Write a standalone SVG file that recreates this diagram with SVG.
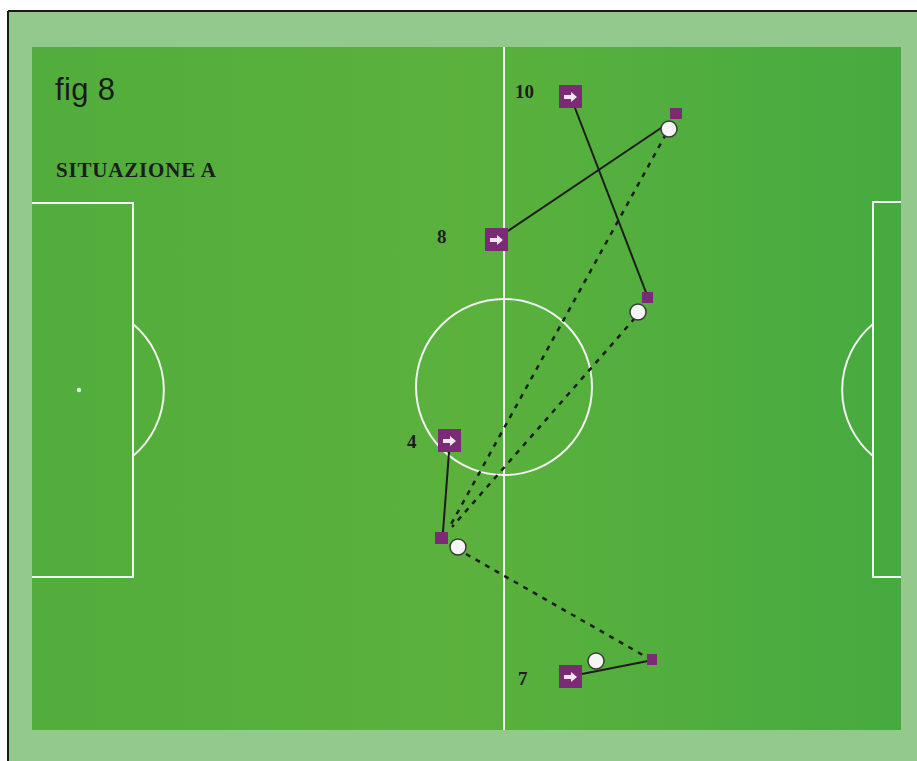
<svg xmlns="http://www.w3.org/2000/svg" width="917" height="761" viewBox="0 0 917 761">
<defs>
<linearGradient id="fieldGrad" x1="0" y1="0" x2="1" y2="0">
<stop offset="0" stop-color="#52ad3c"/>
<stop offset="0.5" stop-color="#5bb13c"/>
<stop offset="1" stop-color="#46aa40"/>
</linearGradient>
<g id="player">
<rect x="0" y="0" width="23" height="23" fill="#7b2a76"/>
<rect x="5" y="10" width="8" height="4" fill="#f3e6f2"/>
<polygon points="12,7 18,12 12,17" fill="#f3e6f2"/>
</g>
</defs>
<style>
.line{fill:none;stroke:#f2f2f2;stroke-width:2}
.solid{fill:none;stroke:#1c1c1c;stroke-width:2}
.dash{fill:none;stroke:#1c1c1c;stroke-width:2.5;stroke-dasharray:5 6}
.mark{fill:#7b2a76}
.ball{fill:#f5f5f5;stroke:#3a3a3a;stroke-width:1.5}
.num{font-family:"Liberation Serif",serif;font-weight:bold;font-size:19px;fill:#1c1c1c}
</style>
<rect x="0" y="0" width="917" height="761" fill="#ffffff"/>
<rect x="8" y="11" width="909" height="750" fill="#93c98d"/>
<line x1="8" y1="11" x2="917" y2="11" stroke="#1a1a1a" stroke-width="2"/>
<line x1="8" y1="11" x2="8" y2="761" stroke="#1a1a1a" stroke-width="2"/>
<g id="field">
<rect x="32" y="47" width="869" height="683" fill="url(#fieldGrad)"/>
<line class="line" x1="504" y1="47" x2="504" y2="730"/>
<circle class="line" cx="504" cy="387" r="88"/>
<polyline class="line" points="32,203 133,203 133,577 32,577"/>
<path class="line" d="M133,324 A86,86 0 0 1 133,456"/>
<circle cx="79" cy="390" r="2.2" fill="#f2f2f2"/>
<polyline class="line" points="901,202 873,202 873,577 901,577"/>
<path class="line" d="M873,324 A86,86 0 0 0 873,456"/>
</g>
<g id="labels">
<text x="55" y="100" font-family="Liberation Sans, Arial, sans-serif" font-size="31" fill="#1a1a1a" textLength="60">fig 8</text>
<text x="56" y="177" font-family="Liberation Serif, serif" font-weight="bold" font-size="21" fill="#1c1c1c" textLength="160">SITUAZIONE A</text>
</g>
<g id="connectors">
<line class="solid" x1="508" y1="231" x2="664" y2="126"/>
<line class="solid" x1="575" y1="108" x2="647" y2="295"/>
<line class="dash" x1="666" y1="134" x2="449" y2="528"/>
<line class="dash" x1="635" y1="318" x2="452" y2="527"/>
<line class="solid" x1="449" y1="452" x2="443" y2="532"/>
<line class="dash" x1="466" y1="554" x2="648" y2="658"/>
<line class="solid" x1="582" y1="674" x2="648" y2="661"/>
</g>
<g id="player-10">
<use href="#player" x="559" y="85"/>
<text class="num" x="515" y="98">10</text>
</g>
<g id="player-8">
<use href="#player" x="485" y="228"/>
<text class="num" x="437" y="243">8</text>
</g>
<g id="player-4">
<use href="#player" x="438" y="429"/>
<text class="num" x="407" y="448">4</text>
</g>
<g id="player-7">
<use href="#player" x="559" y="665"/>
<text class="num" x="518" y="685">7</text>
</g>
<g id="target-a">
<rect class="mark" x="670" y="108" width="12" height="11"/>
<circle class="ball" cx="669" cy="129" r="8"/>
</g>
<g id="target-b">
<rect class="mark" x="642" y="292" width="11" height="11"/>
<circle class="ball" cx="638" cy="312" r="8"/>
</g>
<g id="target-c">
<rect class="mark" x="435" y="532" width="13" height="12"/>
<circle class="ball" cx="458" cy="547" r="8"/>
</g>
<g id="target-d">
<rect class="mark" x="647" y="654" width="10" height="11"/>
<circle class="ball" cx="596" cy="661" r="8"/>
</g>
</svg>
